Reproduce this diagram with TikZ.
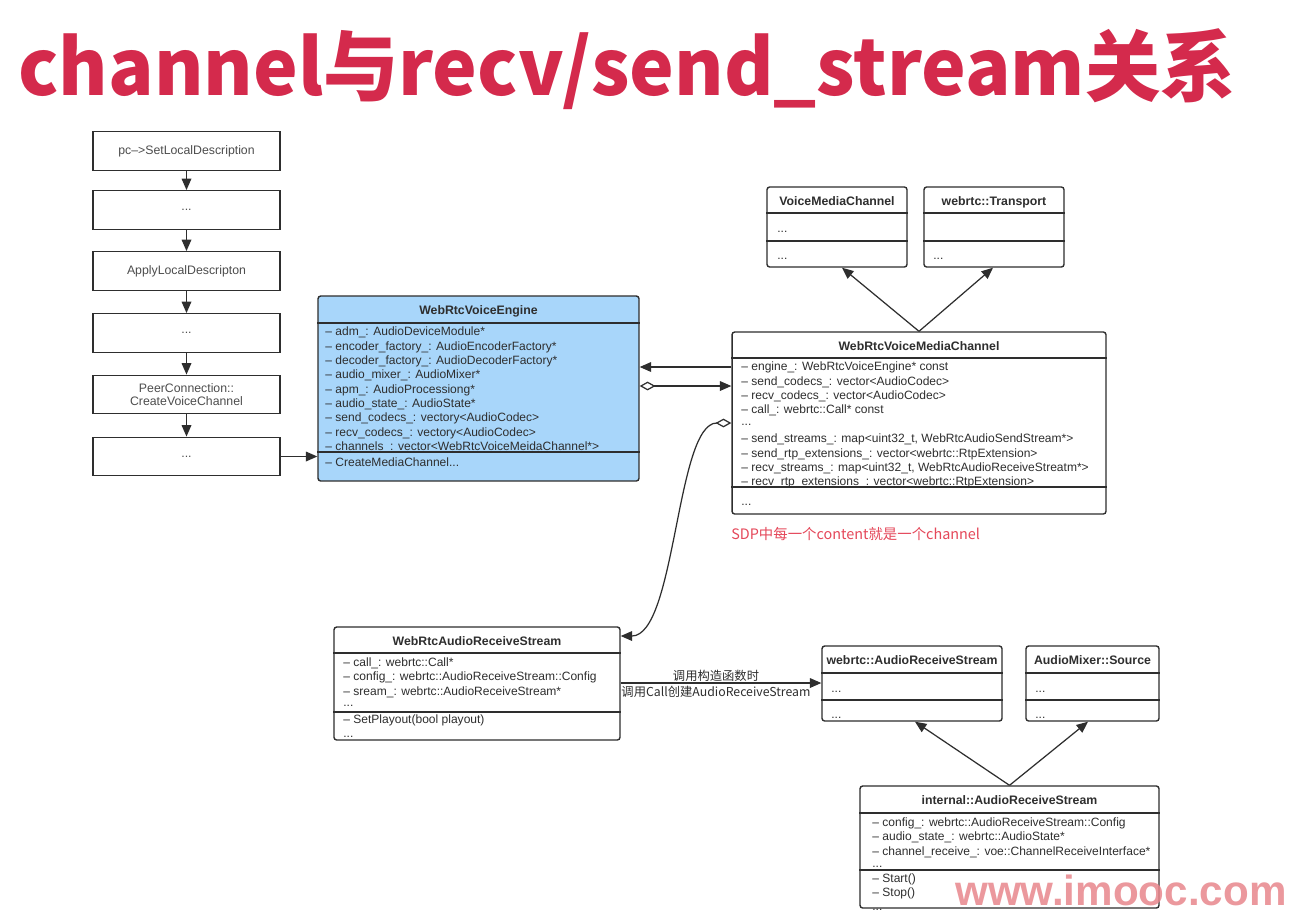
\documentclass[tikz,border=0pt]{standalone}
\usepackage{fontspec}
\setmainfont{Liberation Sans}
\newfontfamily\cjk{Noto Sans CJK SC}
\usetikzlibrary{arrows.meta}
\definecolor{titleColor}{HTML}{D42A4C}
\definecolor{engColor}{HTML}{A8D6FA}
\definecolor{noteColor}{HTML}{E5485A}
\definecolor{markColor}{HTML}{E8868C}
\definecolor{lineColor}{HTML}{2E2E2E}
\tikzset{
  flowbox/.style={draw=lineColor, line width=0.8pt, minimum width=3.74cm, minimum height=0.77cm, inner sep=0, align=center, text=lineColor!85, font=\fontsize{7}{7.6}\selectfont},
  cls/.style={draw=lineColor, line width=0.8pt, rounded corners=1.5pt, inner sep=0},
  sep/.style={draw=lineColor, line width=0.8pt},
  mem/.style={anchor=west, inner sep=0, text=lineColor, text height=5.2pt, text depth=1.5pt, font=\fontsize{6.85}{8}\selectfont},
  head/.style={inner sep=0, text=lineColor, text height=5.2pt, text depth=1.5pt, font=\fontsize{7}{8}\selectfont\bfseries},
  link/.style={draw=lineColor, line width=0.7pt, -{Triangle[length=6.5pt,width=5.5pt]}},
  agg/.style={{Diamond[open,length=9pt,width=5pt,fill=white]}-{Triangle[length=6.5pt,width=5.5pt]}},
}

\begin{document}
\begin{tikzpicture}[x=0.02cm,y=-0.02cm]
    \useasboundingbox[fill=white] (0,0) rectangle (1290,917);

    \node[anchor=base west, inner sep=0, text=titleColor, font=\cjk\bfseries\fontsize{44}{44}\selectfont] (title) at (18,95) {\scalebox{0.975}[1]{channel与recv/send\_stream关系}};

    % call chain on the left
    \node[flowbox] (f1) at (186.5,151) {pc–>SetLocalDescription};
    \node[flowbox] (f2) at (186.5,210) {...};
    \node[flowbox] (f3) at (186.5,271) {ApplyLocalDescripton};
    \node[flowbox] (f4) at (186.5,333) {...};
    \node[flowbox] (f5) at (186.5,394.5) {PeerConnection::\\CreateVoiceChannel};
    \node[flowbox] (f6) at (186.5,456.5) {...};
    \draw[link] (f1) -- (f2);
    \draw[link] (f2) -- (f3);
    \draw[link] (f3) -- (f4);
    \draw[link] (f4) -- (f5);
    \draw[link] (f5) -- (f6);

    % WebRtcVoiceEngine
    \node[cls, fill=engColor, minimum width=6.42cm, minimum height=3.7cm] (eng) at (478.5,388.5) {};
    \node[head] (engT) at (478.5,311) {WebRtcVoiceEngine};
    \node[mem] (engM1) at (325,332.5) {– adm\_: AudioDeviceModule*};
    \node[mem] (engM2) at (325,346.9) {– encoder\_factory\_: AudioEncoderFactory*};
    \node[mem] (engM3) at (325,361.2) {– decoder\_factory\_: AudioDecoderFactory*};
    \node[mem] (engM4) at (325,375.6) {– audio\_mixer\_: AudioMixer*};
    \node[mem] (engM5) at (325,389.9) {– apm\_: AudioProcessiong*};
    \node[mem] (engM6) at (325,404.3) {– audio\_state\_: AudioState*};
    \node[mem] (engM7) at (325,418.6) {– send\_codecs\_: vectory<AudioCodec>};
    \node[mem] (engM8) at (325,433) {– recv\_codecs\_: vectory<AudioCodec>};
    \node[mem] (engM9) at (325,447.3) {– channels\_: vector<WebRtcVoiceMeidaChannel*>};
    \node[mem] (engF1) at (325,463.5) {– CreateMediaChannel...};
    \draw[sep] (eng.west |- 0,323) -- (eng.east |- 0,323);
    \draw[sep] (eng.west |- 0,452) -- (eng.east |- 0,452);

    % VoiceMediaChannel and webrtc::Transport
    \node[cls, minimum width=2.8cm, minimum height=1.6cm] (vmc) at (837,227) {};
    \node[head] (vmcT) at (837,202.5) {VoiceMediaChannel};
    \node[mem] (vmcM1) at (777,229) {...};
    \node[mem] (vmcF1) at (777,256.5) {...};
    \draw[sep] (vmc.west |- 0,213) -- (vmc.east |- 0,213);
    \draw[sep] (vmc.west |- 0,241) -- (vmc.east |- 0,241);

    \node[cls, minimum width=2.8cm, minimum height=1.6cm] (trans) at (994,227) {};
    \node[head] (transT) at (994,202.5) {webrtc::Transport};
    \node[mem] (transF1) at (933,256.5) {...};
    \draw[sep] (trans.west |- 0,213) -- (trans.east |- 0,213);
    \draw[sep] (trans.west |- 0,241) -- (trans.east |- 0,241);

    % WebRtcVoiceMediaChannel
    \node[cls, minimum width=7.48cm, minimum height=3.64cm] (med) at (919,423) {};
    \node[head] (medT) at (919,347) {WebRtcVoiceMediaChannel};
    \node[mem] (medM1) at (741,367.5) {– engine\_: WebRtcVoiceEngine* const};
    \node[mem] (medM2) at (741,381.9) {– send\_codecs\_: vector<AudioCodec>};
    \node[mem] (medM3) at (741,396.3) {– recv\_codecs\_: vector<AudioCodec>};
    \node[mem] (medM4) at (741,410.7) {– call\_: webrtc::Call* const};
    \node[mem] (medM5) at (741,422.5) {...};
    \node[mem] (medM6) at (741,439.5) {– send\_streams\_: map<uint32\_t, WebRtcAudioSendStream*>};
    \node[mem] (medM7) at (741,453.9) {– send\_rtp\_extensions\_: vector<webrtc::RtpExtension>};
    \node[mem] (medM8) at (741,468.3) {– recv\_streams\_: map<uint32\_t, WebRtcAudioReceiveStreatm*>};
    \node[mem] (medM9) at (741,482.7) {– recv\_rtp\_extensions\_: vector<webrtc::RtpExtension>};
    \node[mem] (medF1) at (741,502) {...};
    \draw[sep] (med.west |- 0,358) -- (med.east |- 0,358);
    \draw[sep] (med.west |- 0,487) -- (med.east |- 0,487);
    \node[anchor=west, inner sep=0, text=noteColor, font=\cjk\fontsize{8.2}{9}\selectfont] (sdp) at (731,534) {SDP中每一个content就是一个channel};

    % WebRtcAudioReceiveStream
    \node[cls, minimum width=5.72cm, minimum height=2.26cm] (wars) at (477,683.5) {};
    \node[head] (warsT) at (477,642.5) {WebRtcAudioReceiveStream};
    \node[mem] (warsM1) at (343,663.3) {– call\_: webrtc::Call*};
    \node[mem] (warsM2) at (343,677.7) {– config\_: webrtc::AudioReceiveStream::Config};
    \node[mem] (warsM3) at (343,692.1) {– sream\_: webrtc::AudioReceiveStream*};
    \node[mem] (warsM4) at (343,703.5) {...};
    \node[mem] (warsF1) at (343,720) {– SetPlayout(bool playout)};
    \node[mem] (warsF2) at (343,734) {...};
    \draw[sep] (wars.west |- 0,653) -- (wars.east |- 0,653);
    \draw[sep] (wars.west |- 0,712) -- (wars.east |- 0,712);

    % webrtc::AudioReceiveStream and AudioMixer::Source
    \node[cls, minimum width=3.6cm, minimum height=1.5cm] (ars) at (912,683.5) {};
    \node[head] (arsT) at (912,661.5) {webrtc::AudioReceiveStream};
    \node[mem] (arsM1) at (831,689) {...};
    \node[mem] (arsF1) at (831,715) {...};
    \draw[sep] (ars.west |- 0,673) -- (ars.east |- 0,673);
    \draw[sep] (ars.west |- 0,700) -- (ars.east |- 0,700);

    \node[cls, minimum width=2.66cm, minimum height=1.5cm] (mix) at (1092.5,683.5) {};
    \node[head] (mixT) at (1092.5,661.5) {AudioMixer::Source};
    \node[mem] (mixM1) at (1035,689) {...};
    \node[mem] (mixF1) at (1035,715) {...};
    \draw[sep] (mix.west |- 0,673) -- (mix.east |- 0,673);
    \draw[sep] (mix.west |- 0,700) -- (mix.east |- 0,700);

    % internal::AudioReceiveStream
    \node[cls, minimum width=5.98cm, minimum height=2.44cm] (intl) at (1009.5,847) {};
    \node[head] (intlT) at (1009.5,801.5) {internal::AudioReceiveStream};
    \node[mem] (intlM1) at (872,823) {– config\_: webrtc::AudioReceiveStream::Config};
    \node[mem] (intlM2) at (872,837.5) {– audio\_state\_: webrtc::AudioState*};
    \node[mem] (intlM3) at (872,852) {– channel\_receive\_: voe::ChannelReceiveInterface*};
    \node[mem] (intlM4) at (872,864) {...};
    \node[mem] (intlF1) at (872,879) {– Start()};
    \node[mem] (intlF2) at (872,893.5) {– Stop()};
    \node[mem] (intlF3) at (872,907.5) {...};
    \draw[sep] (intl.west |- 0,813) -- (intl.east |- 0,813);
    \draw[sep] (intl.west |- 0,870) -- (intl.east |- 0,870);

    % connectors
    \draw[link] (f6.east) -- (f6.east -| eng.west);
    \draw[link] (med.west |- 0,367) -- (eng.east |- 0,367);
    \draw[link, agg] (eng.east |- 0,386) -- (med.west |- 0,386);
    \draw[link, agg] (med.west |- 0,423) .. controls (676,423) and (676,636) .. (wars.east |- 0,636);
    \draw[link] (med.north) -- (vmc.south -| 842,0);
    \draw[link] (med.north) -- (trans.south -| 993,0);
    \draw[link] (wars.east |- 0,683) -- (ars.west |- 0,683);
    \node[inner sep=0, font=\cjk\fontsize{7}{8}\selectfont, text=lineColor] (callA) at (716,676) {调用构造函数时};
    \node[inner sep=0, font=\cjk\fontsize{7}{8}\selectfont, text=lineColor] (callB) at (716,692) {调用Call创建AudioReceiveStream};
    \draw[link] (intl.north) -- (ars.south -| 915,0);
    \draw[link] (intl.north) -- (mix.south -| 1088,0);

    \node[anchor=base west, inner sep=0, text=markColor, opacity=0.85, font=\bfseries\fontsize{24}{24}\selectfont] (mark) at (955,905) {www.imooc.com};
\end{tikzpicture}
\end{document}
